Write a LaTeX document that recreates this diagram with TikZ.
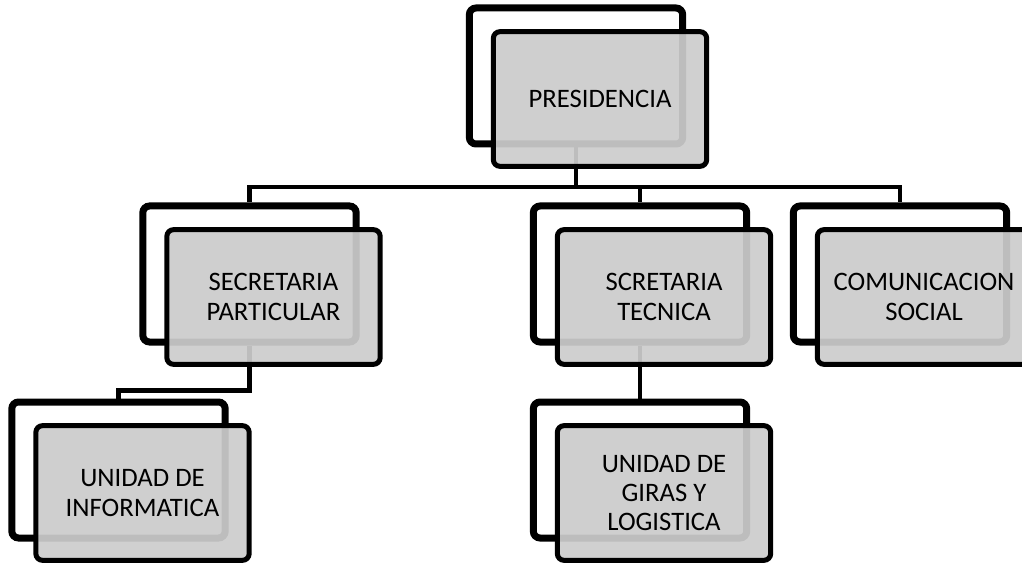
\documentclass[tikz,border=0pt]{standalone}
\usepackage{fontspec}
\setmainfont{Carlito}

\begin{document}
\begin{tikzpicture}[x=0.75pt,y=0.75pt,yscale=-1,xscale=1,
  backbox/.style={draw, line width=5.25pt, fill=white, rounded corners=5pt, minimum width=160pt, minimum height=102pt, inner sep=0pt},
  frontbox/.style={draw, line width=3.75pt, fill={rgb, 255:red, 204; green, 204; blue, 204}, fill opacity=0.93, text opacity=1, rounded corners=5pt, minimum width=160pt, minimum height=101pt, inner sep=0pt, align=center, font=\fontsize{20}{22}\selectfont},
  link/.style={line width=3.4pt}]
\useasboundingbox (0,0) rectangle (1022,563);

%Shape: Back Rectangles
\node[backbox] (pres-b) at (576,76) {};
\node[backbox] (sp-b) at (249.5,274) {};
\node[backbox] (st-b) at (640,274) {};
\node[backbox] (cs-b) at (900,274) {};
\node[backbox] (ui-b) at (118.5,470) {};
\node[backbox] (ug-b) at (640,470) {};

%Straight Lines
\coordinate (bus) at (0,187);
\draw[link] (pres-b.south) -- (pres-b.south |- bus);
\draw[link] (sp-b.north) -- (sp-b.north |- bus) -- (cs-b.north |- bus) -- (cs-b.north);
\draw[link] (st-b.north) -- (st-b.north |- bus);
\draw[link] (sp-b.south) -- ++(0,45) -| (ui-b.north);
\draw[link] (st-b.south) -- (ug-b.north);

% Text Node
\node[frontbox] (pres) at (600,99) {PRESIDENCIA};
% Text Node
\node[frontbox] (sp) at (273.5,297) {SECRETARIA\\PARTICULAR};
% Text Node
\node[frontbox] (st) at (664,297) {SCRETARIA\\TECNICA};
% Text Node
\node[frontbox] (cs) at (924,297) {COMUNICACION\\SOCIAL};
% Text Node
\node[frontbox] (ui) at (142.5,493) {UNIDAD DE\\INFORMATICA};
% Text Node
\node[frontbox] (ug) at (664,493) {UNIDAD DE\\GIRAS Y\\LOGISTICA};

\end{tikzpicture}
\end{document}
